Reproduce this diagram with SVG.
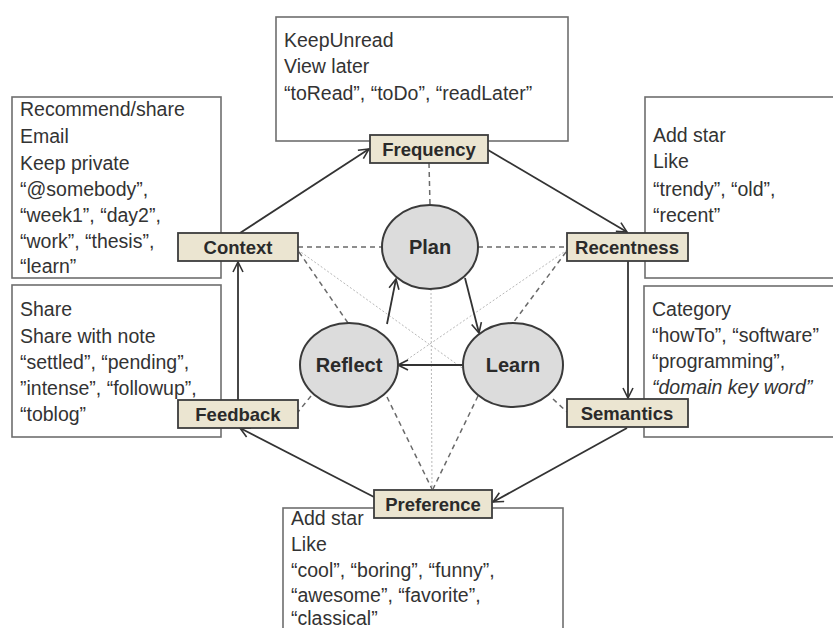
<svg xmlns="http://www.w3.org/2000/svg" width="833" height="628" viewBox="0 0 833 628">
<style>
.txt{font-family:"Liberation Sans",Arial,sans-serif;font-size:19.5px;fill:#333}
.lbl{font-family:"Liberation Sans",Arial,sans-serif;font-size:18.5px;font-weight:bold;fill:#2a2a2a;text-anchor:middle}
.cl{font-family:"Liberation Sans",Arial,sans-serif;font-size:20px;font-weight:bold;fill:#2a2a2a;text-anchor:middle}
.tb{fill:#fff;stroke:#6e6e6e;stroke-width:1.6}
.lb{fill:#ebe5d1;stroke:#3c3c3c;stroke-width:1.8}
.el{fill:#dcdcdc;stroke:#3a3a3a;stroke-width:2}
.arr{stroke:#333;stroke-width:1.8;fill:none;marker-end:url(#ah)}
.dash{stroke:#6a6a6a;stroke-width:1.5;stroke-dasharray:5,4;fill:none}
.dot{stroke:#b8b8b8;stroke-width:1;stroke-dasharray:2,2;fill:none}
</style>
<defs>
<marker id="ah" viewBox="0 0 12 12" refX="11" refY="6" markerWidth="12" markerHeight="12" markerUnits="userSpaceOnUse" orient="auto">
<path d="M1,1 L11,6 L1,11" fill="none" stroke="#333" stroke-width="1.6"/>
</marker>
</defs>
<rect width="833" height="628" fill="#fff"/>

<g id="box-frequency-text">
<rect class="tb" x="276" y="17" width="292" height="124"/>
<text class="txt" x="284" y="47">KeepUnread</text>
<text class="txt" x="284" y="73">View later</text>
<text class="txt" x="284" y="100">“toRead”, “toDo”, “readLater”</text>
</g>
<g id="box-context-text">
<rect class="tb" x="12" y="97" width="209" height="181"/>
<text class="txt" x="20" y="116">Recommend/share</text>
<text class="txt" x="20" y="143">Email</text>
<text class="txt" x="20" y="170">Keep private</text>
<text class="txt" x="20" y="196">“@somebody”,</text>
<text class="txt" x="20" y="222">“week1”, “day2”,</text>
<text class="txt" x="20" y="248">“work”, “thesis”,</text>
<text class="txt" x="20" y="273">“learn”</text>
</g>
<g id="box-recentness-text">
<rect class="tb" x="645" y="97" width="200" height="181"/>
<text class="txt" x="653" y="142">Add star</text>
<text class="txt" x="653" y="168">Like</text>
<text class="txt" x="653" y="196">“trendy”, “old”,</text>
<text class="txt" x="653" y="222">“recent”</text>
</g>
<g id="box-feedback-text">
<rect class="tb" x="12" y="285" width="209" height="152"/>
<text class="txt" x="20" y="316">Share</text>
<text class="txt" x="20" y="343">Share with note</text>
<text class="txt" x="20" y="369">“settled”, “pending”,</text>
<text class="txt" x="20" y="395">”intense”, “followup”,</text>
<text class="txt" x="20" y="421">“toblog”</text>
</g>
<g id="box-semantics-text">
<rect class="tb" x="644" y="286" width="200" height="151"/>
<text class="txt" x="652" y="316">Category</text>
<text class="txt" x="652" y="342">“howTo”, “software”</text>
<text class="txt" x="652" y="368">“programming”,</text>
<text class="txt" x="652" y="394" font-style="italic">“domain key word”</text>
</g>
<g id="box-preference-text">
<rect class="tb" x="283" y="508" width="280" height="130"/>
<text class="txt" x="291" y="525">Add star</text>
<text class="txt" x="291" y="551">Like</text>
<text class="txt" x="291" y="577">“cool”, “boring”, “funny”,</text>
<text class="txt" x="291" y="602">“awesome”, “favorite”,</text>
<text class="txt" x="291" y="625">“classical”</text>
</g>

<g id="connectors">
<line class="dot" x1="298" y1="250" x2="490" y2="388"/>
<line class="dot" x1="567" y1="250" x2="370" y2="385"/>
<line class="dot" x1="431" y1="289" x2="432" y2="490"/>
<line class="dash" x1="429" y1="163" x2="430" y2="205"/>
<line class="dash" x1="298" y1="247" x2="382" y2="247"/>
<line class="dash" x1="478" y1="247" x2="567" y2="247"/>
<line class="dash" x1="299" y1="252" x2="348" y2="323"/>
<line class="dash" x1="566" y1="252" x2="513" y2="323"/>
<line class="dash" x1="311" y1="396" x2="298" y2="412"/>
<line class="dash" x1="553" y1="399" x2="567" y2="412"/>
<line class="dash" x1="387" y1="397" x2="432" y2="489"/>
<line class="dash" x1="478" y1="396" x2="433" y2="489"/>
<line class="arr" x1="240" y1="233" x2="369" y2="149"/>
<line class="arr" x1="488" y1="150" x2="627" y2="232"/>
<line class="arr" x1="628" y1="261" x2="628" y2="398"/>
<line class="arr" x1="627" y1="428" x2="493" y2="502"/>
<line class="arr" x1="374" y1="497" x2="240" y2="428"/>
<line class="arr" x1="238" y1="400" x2="238" y2="262"/>
<line class="arr" x1="465" y1="278" x2="479" y2="333"/>
<line class="arr" x1="387" y1="324" x2="396" y2="279"/>
<line class="arr" x1="463" y1="365" x2="398" y2="365"/>
</g>

<g id="node-plan"><ellipse class="el" cx="430" cy="247" rx="48" ry="42"/><text class="cl" x="430" y="254">Plan</text></g>
<g id="node-reflect"><ellipse class="el" cx="349" cy="365" rx="49" ry="42"/><text class="cl" x="349" y="372">Reflect</text></g>
<g id="node-learn"><ellipse class="el" cx="513" cy="365" rx="50" ry="42"/><text class="cl" x="513" y="372">Learn</text></g>

<g id="node-frequency"><rect class="lb" x="370" y="135" width="118" height="28"/><text class="lbl" x="429" y="156">Frequency</text></g>
<g id="node-context"><rect class="lb" x="178" y="233" width="120" height="28"/><text class="lbl" x="238" y="254">Context</text></g>
<g id="node-recentness"><rect class="lb" x="567" y="233" width="121" height="28"/><text class="lbl" x="627" y="254">Recentness</text></g>
<g id="node-feedback"><rect class="lb" x="178" y="400" width="120" height="28"/><text class="lbl" x="238" y="421">Feedback</text></g>
<g id="node-semantics"><rect class="lb" x="567" y="399" width="121" height="28"/><text class="lbl" x="627" y="420">Semantics</text></g>
<g id="node-preference"><rect class="lb" x="374" y="490" width="118" height="28"/><text class="lbl" x="433" y="511">Preference</text></g>
</svg>
